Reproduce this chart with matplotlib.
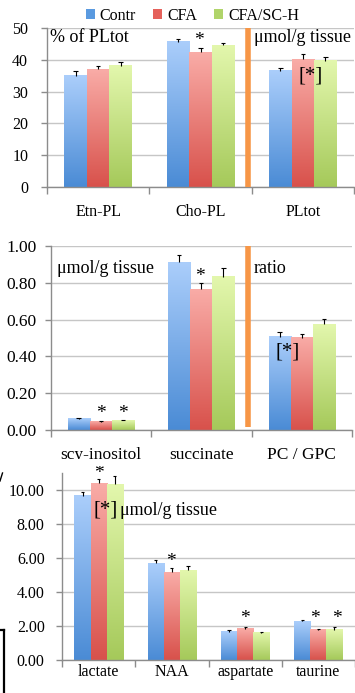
import matplotlib
matplotlib.use('Agg')
import matplotlib.pyplot as plt
import numpy as np
from matplotlib.colors import LinearSegmentedColormap
from matplotlib.patches import Patch, Rectangle
from matplotlib.lines import Line2D

plt.rcParams['font.family'] = ['Liberation Serif', 'DejaVu Serif']

series = ['Contr', 'CFA', 'CFA/SC-H']

# Panel 1
p1_categories = ['Etn-PL', 'Cho-PL', 'PLtot']
p1_contr = [35.0, 45.7, 36.6]
p1_cfa = [37.0, 42.4, 40.2]
p1_sch = [38.1, 44.5, 39.7]
p1_contr_err = [1.4, 0.9, 0.9]
p1_cfa_err = [1.0, 1.2, 1.5]
p1_sch_err = [1.1, 0.7, 1.1]
p1_yticks = [0, 10, 20, 30, 40, 50]
p1_yticklabels = ['0', '10', '20', '30', '40', '50']

# Panel 2
p2_categories = ['scy-inositol', 'succinate', 'PC / GPC']
p2_contr = [0.060, 0.911, 0.507]
p2_cfa = [0.045, 0.765, 0.502]
p2_sch = [0.052, 0.833, 0.574]
p2_contr_err = [0.004, 0.040, 0.024]
p2_cfa_err = [0.003, 0.035, 0.020]
p2_sch_err = [0.004, 0.046, 0.029]
p2_yticks = [0.0, 0.2, 0.4, 0.6, 0.8, 1.0]
p2_yticklabels = ['0.00', '0.20', '0.40', '0.60', '0.80', '1.00']

# Panel 3
p3_categories = ['lactate', 'NAA', 'aspartate', 'taurine']
p3_contr = [9.65, 5.69, 1.67, 2.27]
p3_cfa = [10.39, 5.16, 1.84, 1.78]
p3_sch = [10.33, 5.29, 1.59, 1.78]
p3_contr_err = [0.21, 0.19, 0.09, 0.06]
p3_cfa_err = [0.26, 0.23, 0.08, 0.06]
p3_sch_err = [0.51, 0.24, 0.08, 0.18]
p3_yticks = [0, 2, 4, 6, 8, 10]
p3_yticklabels = ['0.00', '2.00', '4.00', '6.00', '8.00', '10.00']

tops = ['#abcefb', '#f9aca7', '#e3f7ad']
bottoms = ['#4a8bd5', '#d8514b', '#a5c95a']
solid = ['#5a9ae0', '#e5615b', '#b0d46a']
GRAY = '#8c8c8c'
GRID = '#c6c6c6'
W = 0.22
CAP = 0.022

W_PX, H_PX = 355, 693
fig = plt.figure(figsize=(W_PX / 100, H_PX / 100), dpi=100)


def ax_at(left, right, top, bottom):
    return fig.add_axes([left / W_PX, 1 - bottom / H_PX,
                         (right - left) / W_PX, (bottom - top) / H_PX])


def gradient_bars(ax, xs, vals, errs, k):
    cmap = LinearSegmentedColormap.from_list('g%d' % k, [bottoms[k], tops[k]])
    grad = np.linspace(0, 1, 256).reshape(-1, 1)
    bars = ax.bar(xs, vals, W, color='none', edgecolor='none', zorder=2)
    for b in bars:
        x0, y0 = b.get_x(), b.get_y()
        w, h = b.get_width(), b.get_height()
        ax.imshow(grad, extent=[x0, x0 + w, y0, y0 + h], origin='lower',
                  cmap=cmap, aspect='auto', zorder=2, interpolation='bilinear')
    vals = np.asarray(vals)
    tops_ = vals + np.asarray(errs)
    ax.vlines(xs, vals, tops_, color='black', lw=0.8, zorder=3)
    ax.hlines(tops_, xs - CAP, xs + CAP, color='black', lw=0.8, zorder=3)


def panel(ax, cats, data, errs, ylim, yticks, ylabels, fs, xpad, ypad):
    n = len(cats)
    x = np.arange(n)
    for k in range(3):
        gradient_bars(ax, x + (k - 1) * W, data[k], errs[k], k)
    ax.set_xlim(-0.5, n - 0.5)
    ax.set_ylim(*ylim)
    ax.set_yticks(yticks)
    ax.set_yticklabels(ylabels)
    ax.set_xticks(x)
    ax.set_xticklabels(cats)
    ax.set_xticks(np.arange(-0.5, n), minor=True)
    ax.tick_params(axis='x', which='major', length=0, pad=xpad, labelsize=fs)
    ax.tick_params(axis='x', which='minor', length=5, color=GRAY, width=1)
    ax.tick_params(axis='y', length=4, color=GRAY, width=1, pad=ypad, labelsize=fs)
    ax.yaxis.grid(True, color=GRID, lw=1)
    ax.set_axisbelow(True)
    for s in ['top', 'right']:
        ax.spines[s].set_visible(False)
    for s in ['left', 'bottom']:
        ax.spines[s].set_color(GRAY)
        ax.spines[s].set_linewidth(1)


# ---- Panel 1
ax1 = ax_at(47, 354, 28, 187)
panel(ax1, p1_categories, [p1_contr, p1_cfa, p1_sch],
      [p1_contr_err, p1_cfa_err, p1_sch_err], (0, 50), p1_yticks,
      p1_yticklabels, 11.5, 12, 9.5)
ax1.axvline(1.465, color='#f79646', lw=4, zorder=4)
ax1.text(-0.47, 46.9, '% of PLtot', fontsize=13, ha='left', va='center')
ax1.text(1.52, 46.9, 'μmol/g tissue', fontsize=13, ha='left', va='center')
ax1.text(0.98, 46.0, '*', fontsize=14, ha='center', va='center', zorder=5)
ax1.text(2.08, 34.9, '[*]', fontsize=15, ha='center', va='center', zorder=5)

# ---- Panel 2
ax2 = ax_at(50.5, 352, 246, 430)
panel(ax2, p2_categories, [p2_contr, p2_cfa, p2_sch],
      [p2_contr_err, p2_cfa_err, p2_sch_err], (0, 1.0), p2_yticks,
      p2_yticklabels, 12.5, 12, 6)
ax2.plot([1.465, 1.465], [0.015, 1.0], color='#f79646', lw=4, zorder=4,
         solid_capstyle='butt')
ax2.text(-0.435, 0.88, 'μmol/g tissue', fontsize=13, ha='left', va='center')
ax2.text(1.525, 0.88, 'ratio', fontsize=13, ha='left', va='center')
ax2.text(0.99, 0.835, '*', fontsize=14, ha='center', va='center', zorder=5)
ax2.text(0.0, 0.09, '*', fontsize=14, ha='center', va='center', zorder=5)
ax2.text(0.22, 0.09, '*', fontsize=14, ha='center', va='center', zorder=5)
ax2.text(1.86, 0.424, '[*]', fontsize=15, ha='center', va='center', zorder=5)

# ---- Panel 3
ax3 = ax_at(62, 355, 473, 660)
panel(ax3, p3_categories, [p3_contr, p3_cfa, p3_sch],
      [p3_contr_err, p3_cfa_err, p3_sch_err], (0, 11), p3_yticks,
      p3_yticklabels, 11.5, 3, 8.5)
ax3.text(0.0, 10.95, '*', fontsize=14, ha='center', va='center', zorder=5, clip_on=False)
ax3.text(0.10, 8.82, '[*]', fontsize=15, ha='center', va='center', zorder=5)
ax3.text(0.29, 8.82, 'μmol/g tissue', fontsize=13, ha='left', va='center', zorder=5)
ax3.text(0.99, 5.8, '*', fontsize=14, ha='center', va='center', zorder=5)
ax3.text(2.0, 2.45, '*', fontsize=14, ha='center', va='center', zorder=5)
ax3.text(2.95, 2.45, '*', fontsize=14, ha='center', va='center', zorder=5)
ax3.text(3.25, 2.45, '*', fontsize=14, ha='center', va='center', zorder=5)

# cut of the middle panel labels (as in the cropped source)
fig.add_artist(Rectangle((0, 1 - 466 / H_PX), 1, 7 / H_PX, transform=fig.transFigure,
                         facecolor='white', edgecolor='none', zorder=10))

# residual frame pieces at the left edge of the source picture
fig.add_artist(Line2D([0, 3.5 / W_PX], [1 - 630 / H_PX, 1 - 630 / H_PX],
                      transform=fig.transFigure, color='black', lw=1.6))
fig.add_artist(Line2D([3.5 / W_PX, 3.5 / W_PX], [1 - 630 / H_PX, 0],
                      transform=fig.transFigure, color='black', lw=1.6))
fig.add_artist(Line2D([0, 2.5 / W_PX], [1 - 481 / H_PX, 1 - 473 / H_PX],
                      transform=fig.transFigure, color='black', lw=1.0))

handles = [Patch(facecolor=solid[k], edgecolor='none', label=series[k]) for k in range(3)]
fig.legend(handles=handles, loc='center', bbox_to_anchor=(0.542, 0.977), ncol=3,
           frameon=False, fontsize=11.5, handlelength=0.55, handleheight=0.55,
           handletextpad=0.3, columnspacing=1.1, borderaxespad=0, borderpad=0)

fig.savefig('out.png', dpi=100)
